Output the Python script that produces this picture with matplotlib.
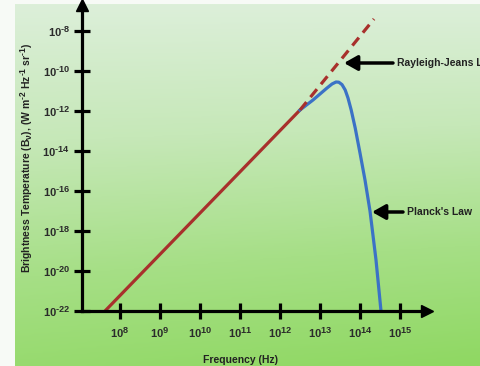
import numpy as np
import matplotlib
matplotlib.use("Agg")
import matplotlib.pyplot as plt
import matplotlib._mathtext as mathtext_impl
from matplotlib.colors import LinearSegmentedColormap

plt.rcParams["mathtext.fontset"] = "custom"
plt.rcParams["mathtext.rm"] = "Liberation Sans:bold"
plt.rcParams["mathtext.bf"] = "Liberation Sans:bold"
plt.rcParams["mathtext.it"] = "Liberation Sans:bold"
# larger exponents in the power-of-ten labels
mathtext_impl.SHRINK_FACTOR = 0.82

# Rayleigh-Jeans law (log10 frequency / log10 brightness)
rj_solid_logf = [7.625, 12.5]
rj_solid_logB = [-22.0, -11.95]
rj_dash_logf = [12.5, 14.35]
rj_dash_logB = [-11.95, -7.4]

# Planck's law curve
planck_logf = [12.5, 12.825, 13.175, 13.3, 13.4, 13.47, 13.55, 13.63, 13.7,
               13.78, 13.88, 14.0, 14.125, 14.25, 14.4, 14.525]
planck_logB = [-11.95, -11.45, -10.85, -10.65, -10.55, -10.56, -10.68, -10.95,
               -11.35, -11.95, -12.85, -14.1, -15.45, -17.0, -19.45, -22.0]

xtick_exp = [8, 9, 10, 11, 12, 13, 14, 15]
ytick_exp = [-22, -20, -18, -16, -14, -12, -10, -8]

W, H = 481, 366
fig = plt.figure(figsize=(W / 100, H / 100), dpi=100)
fig.patch.set_facecolor("#f7faf6")

# green gradient backdrop
bg = fig.add_axes([15 / W, 0, 1 - 15 / W, 1 - 4 / H])
bg.set_axis_off()
cmap = LinearSegmentedColormap.from_list(
    "bg", ["#dcefd9", "#c6e8b8", "#a6df86", "#8fd862"])
yy = np.linspace(0, 1, 200)[:, None]
xx = np.linspace(0, 1, 200)[None, :]
grad = np.clip(yy * 0.88 + 0.12 * yy * xx, 0, 1)
bg.imshow(grad, cmap=cmap, aspect="auto", extent=[0, 1, 1, 0], vmin=0, vmax=1)
bg.set_xlim(0, 1)
bg.set_ylim(1, 0)

x0, y0 = 82 / W, 1 - 311 / H
ax = fig.add_axes([x0, y0, (427 - 82) / W, (311 - 5) / H])
ax.patch.set_alpha(0)
ax.set_xscale("log")
ax.set_yscale("log")
ax.set_xlim(10 ** 7.05, 10 ** 15.675)
ax.set_ylim(1e-22, 10 ** -6.7)

red = "#a8302c"
blue = "#3b72c6"
lw = 2.3
ax.plot(10 ** np.array(rj_solid_logf), 10 ** np.array(rj_solid_logB),
        color=red, lw=lw, solid_capstyle="butt", zorder=3)
ax.plot(10 ** np.array(planck_logf), 10 ** np.array(planck_logB),
        color=blue, lw=lw, zorder=4, solid_joinstyle="round")
ax.plot(10 ** np.array(rj_dash_logf), 10 ** np.array(rj_dash_logB),
        color=red, lw=lw, dashes=(3.2, 2.0), zorder=5)

for s in ["top", "right"]:
    ax.spines[s].set_visible(False)
for s in ["left", "bottom"]:
    ax.spines[s].set_linewidth(2.3)
    ax.spines[s].set_color("black")
    ax.spines[s].set_zorder(6)

ax.set_xticks([10.0 ** e for e in xtick_exp])
ax.set_xticklabels([f"10$^{{\\text{{{e}}}}}$" for e in xtick_exp])
ax.set_yticks([10.0 ** e for e in ytick_exp])
ax.set_yticklabels([f"10$^{{\\text{{{e}}}}}$" for e in ytick_exp])
ax.minorticks_off()
ax.tick_params(axis="both", direction="inout", length=11, width=2.3,
               color="black", labelsize=8, labelcolor="#2b2b2b")
ax.tick_params(axis="x", pad=5)
ax.tick_params(axis="y", pad=3)
for lab in ax.get_xticklabels() + ax.get_yticklabels():
    lab.set_fontfamily("Liberation Sans")
    lab.set_fontweight("bold")

# axis arrowheads
ax.plot([1], [0], marker=">", ms=9, color="black", transform=ax.transAxes,
        clip_on=False, zorder=7)
ax.plot([0], [1], marker="^", ms=9, color="black", transform=ax.transAxes,
        clip_on=False, zorder=7)

txt = dict(fontsize=7.5, fontweight="bold", color="#222222",
           family="Liberation Sans")
fig.text(27 / W, 1 - 158 / H,
         "Brightness Temperature (B$_\\nu$), "
         "(W m$^{\\text{-2}}$ Hz$^{\\text{-1}}$ sr$^{\\text{-1}}$)",
         rotation=90, ha="center", va="center", **txt)
fig.text(241 / W, 1 - 360 / H, "Frequency (Hz)", ha="center", va="center",
         **txt)

arrow = dict(arrowstyle="-|>,head_length=0.8,head_width=0.45", color="black",
             lw=2.5, shrinkA=0, shrinkB=0)
ax.annotate("", xy=(344 / W, 1 - 63 / H), xytext=(393 / W, 1 - 63 / H),
            xycoords="figure fraction", textcoords="figure fraction",
            arrowprops=arrow, zorder=8, annotation_clip=False)
fig.text(397 / W, 1 - 63 / H, "Rayleigh-Jeans Law", ha="left", va="center",
         **txt)
ax.annotate("", xy=(372 / W, 1 - 212 / H), xytext=(403 / W, 1 - 212 / H),
            xycoords="figure fraction", textcoords="figure fraction",
            arrowprops=arrow, zorder=8, annotation_clip=False)
fig.text(407 / W, 1 - 212 / H, "Planck's Law", ha="left", va="center", **txt)

fig.savefig("out.png", dpi=100)
